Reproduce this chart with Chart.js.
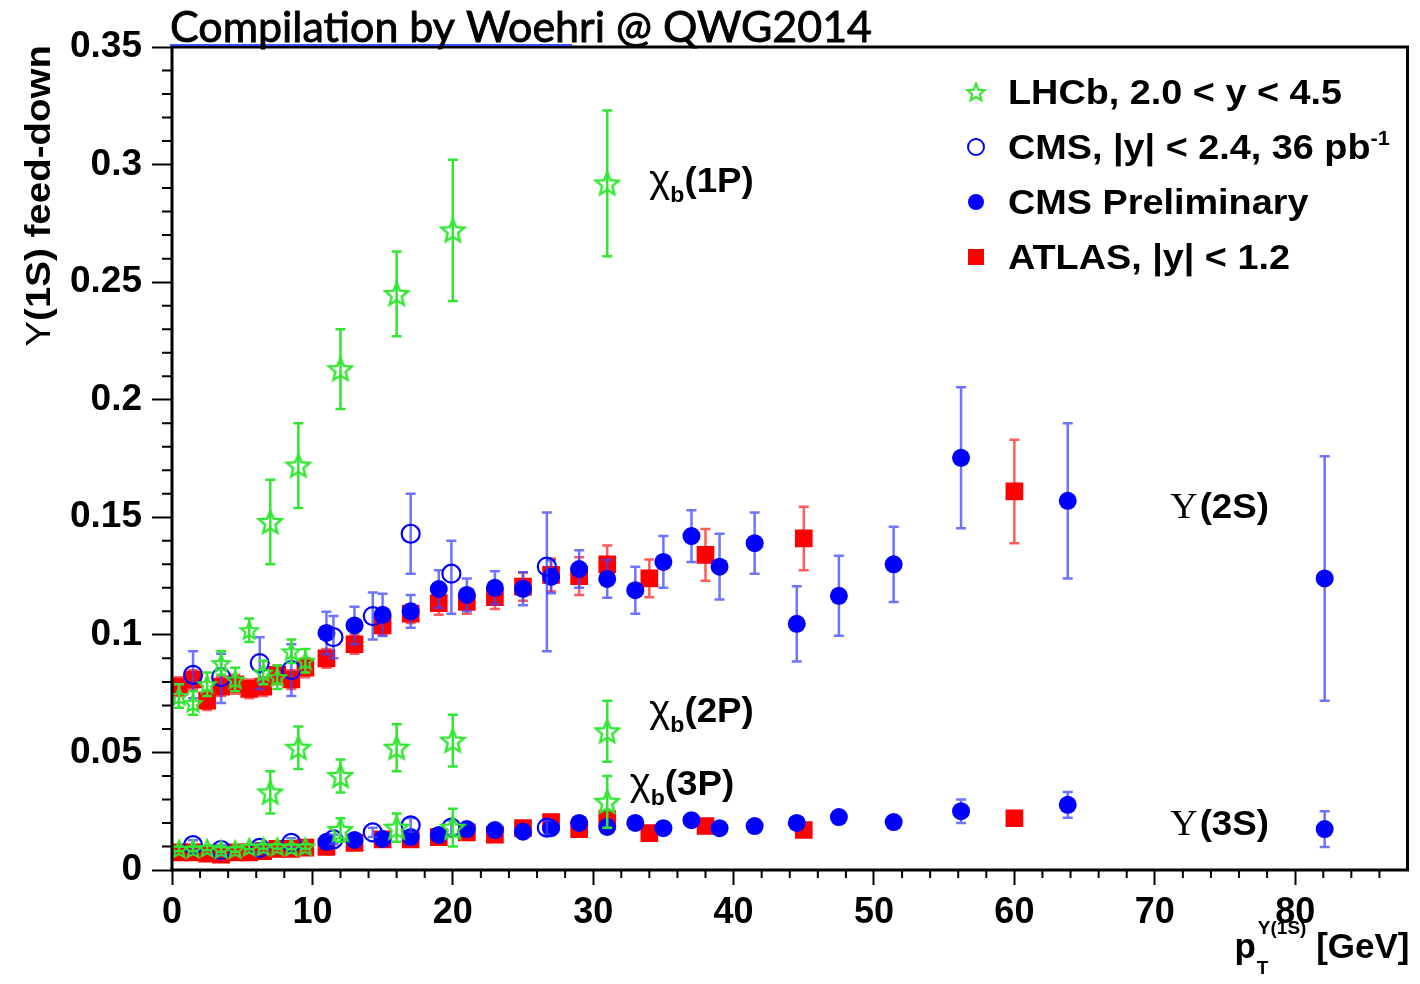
<!DOCTYPE html>
<html>
<head>
<meta charset="utf-8">
<script src="https://cdn.jsdelivr.net/npm/chart.js@4.4.1/dist/chart.umd.min.js"></script>
<style>
  html, body { margin: 0; padding: 0; background: #fff; }
  canvas { display: block; }
</style>
</head>
<body>
<canvas id="grafico" width="1420" height="984"></canvas>
<script>
// LHCb, chi_b(1P) -> Y(1S)
const lhcb1P_x = [7, 9, 12, 16, 20, 31];
const lhcb1P_y = [0.148, 0.172, 0.213, 0.245, 0.272, 0.292];
const lhcb1P_e = [0.018, 0.018, 0.017, 0.018, 0.030, 0.031];

// LHCb, chi_b(2P)
const lhcb2P_x = [7, 9, 12, 16, 20, 31];
const lhcb2P_y = [0.033, 0.052, 0.040, 0.052, 0.055, 0.059];
const lhcb2P_e = [0.009, 0.009, 0.007, 0.010, 0.011, 0.013];

// LHCb, chi_b(3P)
const lhcb3P_x = [12, 16, 20, 31];
const lhcb3P_y = [0.017, 0.018, 0.018, 0.029];
const lhcb3P_e = [0.005, 0.006, 0.008, 0.011];

// LHCb, baixo pT
const lhcbBaixo_x = [0.5, 1.5, 2.5, 3.5, 4.5, 5.5, 6.5, 7.5, 8.5, 9.5];
const lhcb2S_y = [0.074, 0.071, 0.079, 0.088, 0.081, 0.102, 0.084, 0.082, 0.093, 0.089];
const lhcb2S_e = [0.005, 0.005, 0.005, 0.005, 0.005, 0.005, 0.005, 0.005, 0.005, 0.005];
const lhcb3S_y = [0.0090, 0.0090, 0.0094, 0.0088, 0.0088, 0.0098, 0.0100, 0.0100, 0.0098, 0.0100];
const lhcb3S_e = [0.001, 0.001, 0.001, 0.001, 0.001, 0.001, 0.001, 0.001, 0.001, 0.001];

// CMS, |y| < 2.4, 36 pb^-1
const cms36_x = [1.5, 3.5, 6.25, 8.5, 11.5, 14.3, 17, 19.9, 26.7];
const cms36_2S_y = [0.083, 0.082, 0.088, 0.085, 0.099, 0.108, 0.143, 0.126, 0.129];
const cms36_2S_up = [0.010, 0.010, 0.011, 0.011, 0.009, 0.010, 0.017, 0.014, 0.023];
const cms36_2S_dn = [0.010, 0.011, 0.011, 0.011, 0.009, 0.010, 0.017, 0.017, 0.036];
const cms36_3S_y = [0.0106, 0.0085, 0.0094, 0.0115, 0.013, 0.016, 0.019, 0.018, 0.018];
const cms36_3S_e = [0.002, 0.002, 0.002, 0.002, 0.002, 0.002, 0.003, 0.003, 0.003];

// CMS Preliminary
const cmsPre_x = [11, 13, 15, 17, 19, 21, 23, 25, 27, 29, 31, 33, 35, 37, 39, 41.5, 44.5, 47.5, 51.4, 56.2, 63.8, 82.1];
const cmsPre_2S_y = [0.1008, 0.104, 0.1085, 0.110, 0.1195, 0.117, 0.120, 0.1196, 0.1247, 0.128, 0.1238,
                     0.119, 0.131, 0.142, 0.129, 0.139, 0.1047, 0.1166, 0.130, 0.1753, 0.157, 0.124];
const cmsPre_2S_e = [0.009, 0.008, 0.009, 0.007, 0.008, 0.007, 0.007, 0.007, 0.007, 0.008, 0.008,
                     0.010, 0.011, 0.011, 0.014, 0.013, 0.016, 0.017, 0.016, 0.030, 0.033, 0.052];
const cmsPre_3S_y = [0.0120, 0.0128, 0.0132, 0.0140, 0.0149, 0.0174, 0.0170, 0.0163, 0.0178, 0.0200, 0.0183,
                     0.0200, 0.0178, 0.0212, 0.0178, 0.0187, 0.0200, 0.0225, 0.0204, 0.0250, 0.0277, 0.0174];
const cmsPre_3S_e = [0.001, 0.001, 0.001, 0.001, 0.001, 0.001, 0.001, 0.001, 0.001, 0.001, 0.001,
                     0.001, 0.001, 0.001, 0.001, 0.001, 0.001, 0.0015, 0.001, 0.005, 0.0055, 0.0076];

// ATLAS, |y| < 1.2
const atlas_x = [0.5, 1.5, 2.5, 3.5, 4.5, 5.5, 6.5, 7.5, 8.5, 9.5, 11, 13, 15, 17, 19, 21, 23, 25, 27, 29, 31, 34, 38, 45, 60];
const atlas_2S_y = [0.078, 0.081, 0.072, 0.078, 0.079, 0.077, 0.078, 0.083, 0.081, 0.086, 0.090, 0.096, 0.104,
                    0.109, 0.1135, 0.114, 0.116, 0.1205, 0.1255, 0.125, 0.130, 0.124, 0.134, 0.141, 0.161];
const atlas_2S_e = [0.004, 0.004, 0.004, 0.004, 0.004, 0.004, 0.004, 0.004, 0.004, 0.004, 0.004, 0.004, 0.004,
                    0.004, 0.005, 0.005, 0.005, 0.006, 0.007, 0.008, 0.008, 0.008, 0.011, 0.0135, 0.022];
const atlas_3S_y = [0.0075, 0.0075, 0.0070, 0.0065, 0.0075, 0.0075, 0.0080, 0.0090, 0.0090, 0.0095, 0.0098, 0.0115, 0.0130,
                    0.0130, 0.0140, 0.0160, 0.0150, 0.0178, 0.0204, 0.0174, 0.0217, 0.0157, 0.0187, 0.0170, 0.0220];
const atlas_3S_e = [0.001, 0.001, 0.001, 0.001, 0.001, 0.001, 0.001, 0.001, 0.001, 0.001, 0.001, 0.001, 0.001,
                    0.001, 0.001, 0.001, 0.001, 0.001, 0.001, 0.001, 0.001, 0.001, 0.0015, 0.0015, 0.002];

// Rotulos dos eixos
const ticksX = [0, 10, 20, 30, 40, 50, 60, 70, 80];
const ticksY = [0, 0.05, 0.1, 0.15, 0.2, 0.25, 0.3, 0.35];

const VERDE = 'rgb(50, 230, 50)';
const AZUL = '#0000ff';
const VERMELHO = '#ff0000';
const FONTE = "'Liberation Sans', Arial, sans-serif";

// Estrela aberta de 5 pontas (marcador do LHCb)
function criarEstrela(tamanho, espessura) {
    const c = document.createElement('canvas');
    c.width = c.height = tamanho + 4;
    const ctx = c.getContext('2d');
    const cx = c.width / 2, cy = c.height / 2 + 1;
    const rExt = tamanho / 2, rInt = rExt * 0.45;
    ctx.beginPath();
    for (let i = 0; i < 10; i++) {
        const r = i % 2 ? rInt : rExt;
        const a = -Math.PI / 2 + i * Math.PI / 5;
        ctx.lineTo(cx + r * Math.cos(a), cy + r * Math.sin(a));
    }
    ctx.closePath();
    ctx.strokeStyle = VERDE;
    ctx.lineWidth = espessura;
    ctx.stroke();
    return c;
}
const estrelaGrande = criarEstrela(24, 2.5);
const estrelaPequena = criarEstrela(18, 2.2);

function pontos(xs, ys, up, dn) {
    return xs.map((x, i) => ({ x: x, y: ys[i], yHi: ys[i] + up[i], yLo: ys[i] - (dn || up)[i] }));
}

function serieLHCb(xs, ys, es, estrela) {
    return { data: pontos(xs, ys, es), pointStyle: estrela, corBarra: VERDE, order: 1 };
}
function serieCMS36(xs, ys, up, dn) {
    return { data: pontos(xs, ys, up, dn), pointStyle: 'circle', pointRadius: 9,
             backgroundColor: 'rgba(255,255,255,0)', borderColor: AZUL, borderWidth: 2.2,
             corBarra: 'rgba(60,70,255,0.75)', order: 2 };
}
function serieCMSPre(xs, ys, es) {
    return { data: pontos(xs, ys, es), pointStyle: 'circle', pointRadius: 9,
             backgroundColor: AZUL, borderColor: AZUL, borderWidth: 0,
             corBarra: 'rgba(60,70,255,0.75)', order: 3 };
}
function serieATLAS(xs, ys, es) {
    return { data: pontos(xs, ys, es), pointStyle: 'rect', pointRadius: 12.5,
             backgroundColor: VERMELHO, borderColor: VERMELHO, borderWidth: 0,
             corBarra: 'rgba(255,50,50,0.8)', order: 4 };
}

const conjuntos = [
    serieATLAS(atlas_x, atlas_2S_y, atlas_2S_e),
    serieATLAS(atlas_x, atlas_3S_y, atlas_3S_e),
    serieCMSPre(cmsPre_x, cmsPre_2S_y, cmsPre_2S_e),
    serieCMSPre(cmsPre_x, cmsPre_3S_y, cmsPre_3S_e),
    serieCMS36(cms36_x, cms36_2S_y, cms36_2S_up, cms36_2S_dn),
    serieCMS36(cms36_x, cms36_3S_y, cms36_3S_e),
    serieLHCb(lhcbBaixo_x, lhcb2S_y, lhcb2S_e, estrelaPequena),
    serieLHCb(lhcbBaixo_x, lhcb3S_y, lhcb3S_e, estrelaPequena),
    serieLHCb(lhcb1P_x, lhcb1P_y, lhcb1P_e, estrelaGrande),
    serieLHCb(lhcb2P_x, lhcb2P_y, lhcb2P_e, estrelaGrande),
    serieLHCb(lhcb3P_x, lhcb3P_y, lhcb3P_e, estrelaGrande)
];

// Barras de erro verticais com traço nas pontas, desenhadas antes dos marcadores
const barrasErro = {
    id: 'barrasErro',
    beforeDatasetDraw(chart, args) {
        const ds = chart.data.datasets[args.index];
        const ctx = chart.ctx, sx = chart.scales.x, sy = chart.scales.y;
        ctx.save();
        ctx.strokeStyle = ds.corBarra;
        ctx.lineWidth = 2.5;
        ds.data.forEach(p => {
            const px = sx.getPixelForValue(p.x);
            const pHi = sy.getPixelForValue(p.yHi);
            const pLo = sy.getPixelForValue(p.yLo);
            ctx.beginPath();
            ctx.moveTo(px, pHi); ctx.lineTo(px, pLo);
            ctx.moveTo(px - 5, pHi); ctx.lineTo(px + 5, pHi);
            ctx.moveTo(px - 5, pLo); ctx.lineTo(px + 5, pLo);
            ctx.stroke();
        });
        ctx.restore();
    }
};

// Texto em pedaços (subscrito, sobrescrito, fontes diferentes), esticado na horizontal
function textoPartes(ctx, x, y, partes, estica) {
    const k = estica || 1;
    partes.forEach(pt => {
        ctx.font = pt.f;
        ctx.save();
        ctx.translate(x, y + (pt.dy || 0));
        ctx.scale(k, 1);
        ctx.fillText(pt.t, 0, 0);
        ctx.restore();
        x += (ctx.measureText(pt.t).width + (pt.gap || 0)) * k;
    });
    return x;
}
function larguraPartes(ctx, partes, estica) {
    let w = 0;
    partes.forEach(pt => { ctx.font = pt.f; w += ctx.measureText(pt.t).width + (pt.gap || 0); });
    return w * (estica || 1);
}

const decoracao = {
    id: 'decoracao',
    afterDraw(chart) {
        const ctx = chart.ctx, a = chart.chartArea;
        const sx = chart.scales.x, sy = chart.scales.y;
        ctx.save();
        ctx.fillStyle = '#000';
        ctx.strokeStyle = '#000';

        // marcas secundárias
        ctx.lineWidth = 2;
        ctx.beginPath();
        for (let v = 2; v < 88; v += 2) {
            if (v % 10 === 0) continue;
            const px = sx.getPixelForValue(v);
            ctx.moveTo(px, a.bottom); ctx.lineTo(px, a.bottom + 8);
        }
        for (let k = 1; k < 35; k++) {
            if (k % 5 === 0) continue;
            const py = sy.getPixelForValue(k / 100);
            ctx.moveTo(a.left, py); ctx.lineTo(a.left - 10, py);
        }
        ctx.stroke();

        // moldura
        ctx.lineWidth = 3;
        ctx.strokeRect(a.left, a.top, a.right - a.left, a.bottom - a.top);

        // título do topo
        ctx.strokeStyle = 'rgba(40,70,255,0.9)';
        ctx.lineWidth = 2;
        ctx.beginPath();
        ctx.moveTo(a.left - 2, a.top - 2); ctx.lineTo(572, a.top - 2);
        ctx.stroke();
        ctx.font = "42px Lato, 'Open Sans', sans-serif";
        const larg = ctx.measureText('Compilation by Woehri @ QWG2014').width;
        ctx.save();
        ctx.translate(170, 42);
        ctx.scale(702 / larg, 1);
        ctx.strokeStyle = '#000';
        ctx.lineWidth = 0.9;
        ctx.fillText('Compilation by Woehri @ QWG2014', 0, 0);
        ctx.strokeText('Compilation by Woehri @ QWG2014', 0, 0);
        ctx.restore();

        // título do eixo y
        const fG = 'bold 35px ' + FONTE;
        const partesY = [
            { t: '\u03A5', f: '35px ' + FONTE },
            { t: '(1S) feed-down', f: fG }
        ];
        ctx.save();
        ctx.translate(40, a.top - 2);
        ctx.rotate(-Math.PI / 2);
        ctx.textBaseline = 'middle';
        textoPartes(ctx, -larguraPartes(ctx, partesY, 1.1), 0, partesY, 1.1);
        ctx.restore();

        // título do eixo x: p_T^{Y(1S)} [GeV]
        const fP = 'bold 19px ' + FONTE;
        ctx.textBaseline = 'alphabetic';
        ctx.font = fG; const wp = ctx.measureText('p').width;
        ctx.font = fP; const wsup = ctx.measureText('\u03A5(1S)').width;
        ctx.font = fG; const wr = ctx.measureText(' [GeV]').width;
        const x0 = a.right + 2 - (wp + 2 + wsup + wr);
        const base = 958;
        ctx.font = fG; ctx.fillText('p', x0, base);
        ctx.font = fP;
        ctx.fillText('T', x0 + wp + 1, base + 16);
        ctx.fillText('\u03A5(1S)', x0 + wp + 2, base - 24);
        ctx.font = fG; ctx.fillText(' [GeV]', x0 + wp + 2 + wsup, base);

        // legenda
        const fL = 'bold 35px ' + FONTE;
        const linhas = [
            { y: 92, m: 'estrela', t: [{ t: 'LHCb, 2.0 < y < 4.5', f: fL }] },
            { y: 147, m: 'aberto', t: [{ t: 'CMS, |y| < 2.4, 36 pb', f: fL }, { t: '-1', f: 'bold 20px ' + FONTE, dy: -14 }] },
            { y: 202, m: 'cheio', t: [{ t: 'CMS Preliminary', f: fL }] },
            { y: 257, m: 'quadrado', t: [{ t: 'ATLAS, |y| < 1.2', f: fL }] }
        ];
        linhas.forEach(l => {
            const mx = 976;
            if (l.m === 'estrela') {
                ctx.drawImage(estrelaPequena, mx - estrelaPequena.width / 2, l.y - estrelaPequena.height / 2);
            } else if (l.m === 'aberto') {
                ctx.beginPath(); ctx.arc(mx, l.y, 8, 0, 2 * Math.PI);
                ctx.strokeStyle = AZUL; ctx.lineWidth = 2; ctx.stroke();
            } else if (l.m === 'cheio') {
                ctx.beginPath(); ctx.arc(mx, l.y, 8, 0, 2 * Math.PI);
                ctx.fillStyle = AZUL; ctx.fill();
            } else {
                ctx.fillStyle = VERMELHO; ctx.fillRect(mx - 8, l.y - 8, 16, 16);
            }
            ctx.fillStyle = '#000';
            textoPartes(ctx, 1008, l.y + 12, l.t, 1.08);
        });

        // anotações chi_b(nP) e Y(nS)
        const qui = (vx, vy, n) => {
            const px = sx.getPixelForValue(vx), py = sy.getPixelForValue(vy);
            textoPartes(ctx, px, py, [
                { t: '\u03C7', f: '38px ' + FONTE },
                { t: 'b', f: 'bold 22px ' + FONTE, dy: 10 },
                { t: '(' + n + 'P)', f: fL }
            ], 1.05);
        };
        qui(34.0, 0.2885, 1);
        qui(34.0, 0.063, 2);
        qui(32.6, 0.0319, 3);
        const ups = (vx, vy, n) => {
            const px = sx.getPixelForValue(vx), py = sy.getPixelForValue(vy);
            textoPartes(ctx, px, py, [
                { t: '\u03A5', f: "36px 'Liberation Serif', serif", gap: 2 },
                { t: '(' + n + 'S)', f: fL }
            ], 1.05);
        };
        ups(71.1, 0.1498, 2);
        ups(71.1, 0.0149, 3);
        ctx.restore();
    }
};

const contexto = document.getElementById('grafico').getContext('2d');
new Chart(contexto, {
    type: 'scatter',
    data: { datasets: conjuntos },
    options: {
        responsive: false,
        animation: false,
        devicePixelRatio: 1,
        layout: { padding: { top: 47, right: 8, left: 0, bottom: 0 } },
        plugins: { legend: { display: false }, tooltip: { enabled: false } },
        scales: {
            x: {
                type: 'linear', min: 0, max: 88,
                afterFit: s => { s.height = 114; },
                afterBuildTicks: s => { s.ticks = ticksX.map(v => ({ value: v })); },
                border: { display: false },
                grid: { drawOnChartArea: false, drawTicks: true, tickLength: 15, tickColor: '#000', tickWidth: 2 },
                ticks: { color: '#000', padding: 6, maxRotation: 0,
                         font: { family: FONTE, weight: 'bold', size: 36 } }
            },
            y: {
                type: 'linear', min: 0, max: 0.35,
                afterFit: s => { s.width = 172; },
                afterBuildTicks: s => { s.ticks = ticksY.map(v => ({ value: v })); },
                border: { display: false },
                grid: { drawOnChartArea: false, drawTicks: true, tickLength: 20, tickColor: '#000', tickWidth: 2 },
                ticks: { color: '#000', padding: 10, callback: v => String(+v.toFixed(2)),
                         font: { family: FONTE, weight: 'bold', size: 37 } }
            }
        }
    },
    plugins: [barrasErro, decoracao]
});
</script>
</body>
</html>
